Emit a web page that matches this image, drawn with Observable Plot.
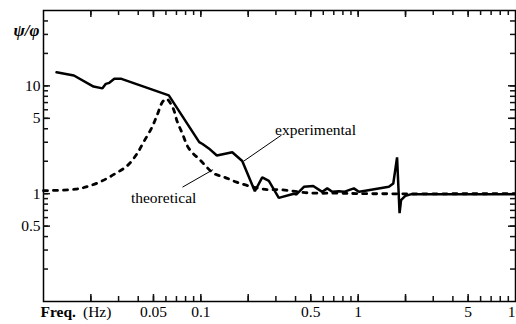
<!DOCTYPE html>
<html><head><meta charset="utf-8">
<script src="https://cdn.jsdelivr.net/npm/d3@7"></script>
<script src="https://cdn.jsdelivr.net/npm/@observablehq/plot@0.6"></script>
<style>html,body{margin:0;padding:0;background:#fff;} #chart{width:516px;height:324px;overflow:hidden} #chart svg text{font-family:"Liberation Serif", serif;}</style>
</head><body><div id="chart"></div>
<script>
// Experimental response (frequency in Hz, ratio psi/phi)
const expFreq = [0.0121, 0.0156, 0.0208, 0.0237, 0.0249, 0.0262, 0.0282, 0.0313, 0.0626, 0.0977, 0.1025, 0.1124, 0.1264, 0.1584, 0.1833, 0.2205, 0.2456, 0.2706, 0.313, 0.39, 0.405, 0.452, 0.518, 0.591, 0.636, 0.684, 0.754, 0.812, 0.939, 1.01, 1.088, 1.567, 1.672, 1.767, 1.833, 1.874, 2.0, 2.185, 10];
const expRatio = [13.35, 12.47, 9.85, 9.48, 10.44, 10.67, 11.62, 11.62, 8.16, 3.01, 2.89, 2.63, 2.26, 2.42, 2.01, 1.055, 1.415, 1.315, 0.914, 1.0, 0.983, 1.157, 1.18, 1.04, 1.12, 1.04, 1.055, 1.04, 1.12, 1.04, 1.06, 1.157, 1.244, 2.17, 0.659, 0.87, 0.958, 0.99, 0.99];
// Theoretical response
const theoFreq = [0.01, 0.016, 0.0194, 0.0236, 0.0287, 0.034, 0.039, 0.0434, 0.0491, 0.0528, 0.0571, 0.0605, 0.0666, 0.0708, 0.0762, 0.0839, 0.0996, 0.121, 0.14, 0.1687, 0.212, 0.264, 0.321, 0.486, 0.736, 1.11, 10];
const theoRatio = [1.066, 1.10, 1.174, 1.315, 1.54, 1.81, 2.31, 3.03, 4.18, 5.37, 7.10, 7.57, 6.2, 4.66, 3.63, 2.63, 2.03, 1.54, 1.43, 1.28, 1.157, 1.09, 1.09, 1.017, 1.01, 1.0, 1.0];

// Ticks and labels
const xMinorTicks = [0.02,0.03,0.04,0.05,0.06,0.07,0.08,0.09,0.1,0.2,0.3,0.4,0.5,0.6,0.7,0.8,0.9,1,2,3,4,5,6,7,8,9];
const xMajorTicks = [0.02, 0.05, 0.1, 0.2, 0.5, 1, 2, 5];
const xTickLabels = ["0.05", "0.1", "0.5", "1", "5", "10"];
const yMinorTicks = [0.2,0.3,0.4,0.5,0.6,0.7,0.8,0.9,1,2,3,4,5,6,7,8,9,10,20,30,40];
const yMajorTicks = [0.5, 1, 5, 10];
const yTickLabels = ["0.5", "1", "5", "10"];

// Annotations (data coordinates)
const annotNames = ["experimental", "theoretical"];
const annotTextFreq = [0.536, 0.058];
const annotTextRatio = [3.9, 0.902];
const leaderFreq1 = [0.187, 0.0765];
const leaderRatio1 = [2.0, 1.15];
const leaderFreq2 = [0.326, 0.1196];
const leaderRatio2 = [3.5, 1.67];

const experimental = expFreq.map((f, i) => ({f, v: expRatio[i]}));
const theoretical = theoFreq.map((f, i) => ({f, v: theoRatio[i]}));
const annots = annotNames.map((t, i) => ({t, f: annotTextFreq[i], v: annotTextRatio[i],
  x1: leaderFreq1[i], y1: leaderRatio1[i], x2: leaderFreq2[i], y2: leaderRatio2[i]}));

const FONT = '"Liberation Serif", serif';
const FS = 15.5;
const W = 516, H = 324, ML = 43, MR = 1, MT = 10, MB = 23;
const FW = W - ML - MR, FH = H - MT - MB;

// short inward ticks drawn as tick marks inset from the opposite side
const tickStyle = {stroke: "#111", strokeWidth: 1.5, strokeOpacity: 1};
function ticksX(values, side, len) {
  return Plot.tickX(values, {x: d => d, ...(side === "bottom" ? {insetTop: FH - len} : {insetBottom: FH - len}), ...tickStyle});
}
function ticksY(values, side, len) {
  return Plot.tickY(values, {y: d => d, ...(side === "left" ? {insetRight: FW - len} : {insetLeft: FW - len}), ...tickStyle});
}

const chart = Plot.plot({
  width: W,
  height: H,
  marginLeft: ML,
  marginRight: MR,
  marginTop: MT,
  marginBottom: MB,
  style: {fontFamily: FONT, fontSize: FS + "px", color: "black", background: "white"},
  x: {type: "log", domain: [0.01, 10], axis: null},
  y: {type: "log", domain: [0.1, 50], axis: null},
  marks: [
    Plot.frame({stroke: "black", strokeWidth: 1.5}),
    ticksX(xMinorTicks, "bottom", 5),
    ticksX(xMajorTicks, "bottom", 7),
    ticksX(xMinorTicks, "top", 5),
    ticksX(xMajorTicks, "top", 7),
    ticksY(yMinorTicks, "left", 5),
    ticksY(yMajorTicks, "left", 7),
    ticksY(yMinorTicks, "right", 5),
    ticksY(yMajorTicks, "right", 7),
    // tick labels
    Plot.text(xTickLabels, {x: d => +d, text: d => d, frameAnchor: "bottom", dy: 15, fontFamily: FONT, fontSize: FS, fill: "black"}),
    Plot.text(yTickLabels, {y: d => +d, text: d => d, frameAnchor: "left", dx: -3, textAnchor: "end", fontFamily: FONT, fontSize: FS, fill: "black"}),
    // curves
    Plot.line(theoretical, {x: "f", y: "v", stroke: "black", strokeWidth: 2.8, strokeDasharray: "4,6", curve: "catmull-rom"}),
    Plot.line(experimental, {x: "f", y: "v", stroke: "black", strokeWidth: 2.5, strokeLinejoin: "miter"}),
    // annotations
    Plot.link(annots, {x1: "x1", y1: "y1", x2: "x2", y2: "y2", stroke: "black", strokeWidth: 1}),
    Plot.text(annots, {x: "f", y: "v", text: "t", fill: "black", fontFamily: FONT, fontSize: FS}),
    // axis titles
    Plot.text(["ψ/φ"], {text: d => d, frameAnchor: "top-left", dx: -30, dy: 13, textAnchor: "start", fontWeight: "bold", fontStyle: "italic", fontFamily: FONT, fontSize: 17, fill: "black"}),
    Plot.text(["Freq."], {text: d => d, frameAnchor: "bottom-left", dx: -3, dy: 15, textAnchor: "start", fontWeight: "bold", fontFamily: FONT, fontSize: FS, fill: "black"}),
    Plot.text(["(Hz)"], {text: d => d, frameAnchor: "bottom-left", dx: 39.5, dy: 15, textAnchor: "start", fontFamily: FONT, fontSize: FS, fill: "black"})
  ]
});
document.getElementById("chart").appendChild(chart);
</script>
</body></html>
